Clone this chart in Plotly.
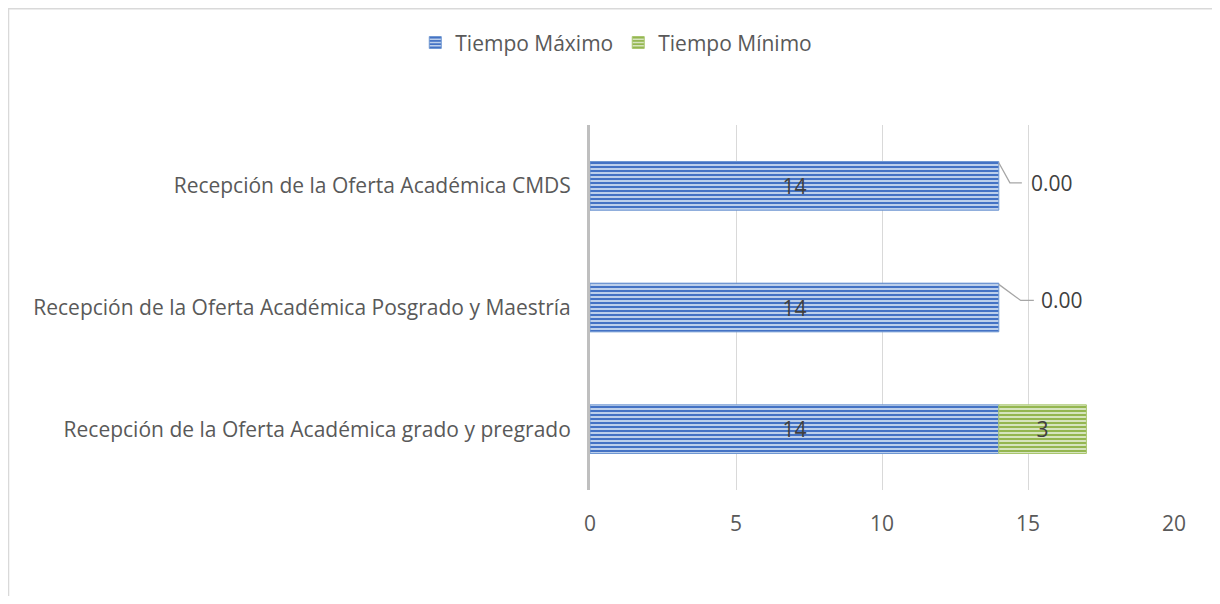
import plotly.graph_objects as go

# categories, listed bottom-to-top as they appear on the chart
categorias = [
    "Recepción de la Oferta Académica grado y pregrado",
    "Recepción de la Oferta Académica Posgrado y Maestría",
    "Recepción de la Oferta Académica CMDS",
]
tiempo_maximo = [14, 14, 14]
tiempo_minimo = [3, 0, 0]
etiquetas_minimo = ["3", "0.00", "0.00"]
x_ticks = [0, 5, 10, 15, 20]

TXT = "#595959"
FONT = "Open Sans"
FS = 21
BAR_W = 0.4

y_idx = list(range(len(categorias)))

fig = go.Figure()

fig.add_trace(go.Bar(
    y=y_idx, x=tiempo_maximo, orientation="h", name="Tiempo Máximo", width=BAR_W,
    marker=dict(color="#BCCFEB", line=dict(color="#6F97D2", width=1),
                pattern=dict(shape="-", fgcolor="#4472C4", bgcolor="#BCCFEB",
                             size=4, solidity=0.5, fillmode="replace")),
    text=[str(v) for v in tiempo_maximo], textposition="inside", insidetextanchor="middle",
    textfont=dict(color="#404040", size=FS, family=FONT),
))

# only non-zero values get an inside label; zero values get a callout
fig.add_trace(go.Bar(
    y=y_idx, x=tiempo_minimo, base=tiempo_maximo, orientation="h", name="Tiempo Mínimo", width=BAR_W,
    marker=dict(color="#D6E4BE", line=dict(color="#A9C66E", width=[1 if v > 0 else 0 for v in tiempo_minimo]),
                pattern=dict(shape="-", fgcolor="#94B650", bgcolor="#D6E4BE",
                             size=4, solidity=0.5, fillmode="replace")),
    text=[lab if v > 0 else "" for lab, v in zip(etiquetas_minimo, tiempo_minimo)],
    textposition="inside", insidetextanchor="middle",
    textfont=dict(color="#404040", size=FS, family=FONT),
))

# leader lines for the zero-valued labels (bent: diagonal then horizontal)
leader_offsets = {2: (0.38, 0.79, 1.02, 0.025), 1: (0.75, 1.2, 1.37, 0.058)}
for i, (lab, v, m) in enumerate(zip(etiquetas_minimo, tiempo_minimo, tiempo_maximo)):
    if v != 0:
        continue
    dx1, dx2, dxt, dy = leader_offsets[i]
    x0 = m + v
    fig.add_trace(go.Scatter(
        x=[x0, x0 + dx1, x0 + dx2], y=[i + BAR_W / 2 - 0.01, i + dy, i + dy],
        mode="lines", line=dict(color="#A6A6A6", width=1.3),
        showlegend=False, hoverinfo="skip",
    ))
    fig.add_annotation(x=x0 + dxt, y=i + dy, text=lab, showarrow=False,
                       xanchor="left", yanchor="middle",
                       font=dict(color="#404040", size=FS, family=FONT))

# outer chart border (right and bottom edges run off the picture)
fig.add_shape(type="rect", xref="paper", yref="paper",
              x0=-0.9957, x1=1.1, y0=-0.35, y1=1.3185,
              line=dict(color="#D9D9D9", width=1.5), fillcolor="rgba(0,0,0,0)", layer="below")

fig.update_layout(
    width=1204, height=588,
    margin=dict(l=582, r=38, t=117, b=106),
    paper_bgcolor="white", plot_bgcolor="white",
    barmode="overlay", bargap=0.6,
    font=dict(family=FONT, color=TXT, size=FS),
    showlegend=True,
    legend=dict(orientation="h", x=0.045, y=1.225, xanchor="center", yanchor="middle",
                font=dict(size=FS, color=TXT, family=FONT), traceorder="normal",
                itemwidth=30, bgcolor="rgba(0,0,0,0)"),
    xaxis=dict(range=[0, 20], tickvals=x_ticks, showgrid=True, gridcolor="#D9D9D9", gridwidth=1,
               zeroline=False, showline=False, ticks="outside", ticklen=15, tickcolor="white",
               tickfont=dict(size=FS, color=TXT, family=FONT), fixedrange=True),
    yaxis=dict(range=[-0.5, 2.5], tickvals=y_idx, ticktext=categorias, showgrid=False,
               zeroline=False, showline=True, linecolor="#BFBFBF", linewidth=3,
               ticks="outside", ticklen=12, tickcolor="white",
               tickfont=dict(size=FS, color=TXT, family=FONT), fixedrange=True),
)

fig.write_html("out.html")
